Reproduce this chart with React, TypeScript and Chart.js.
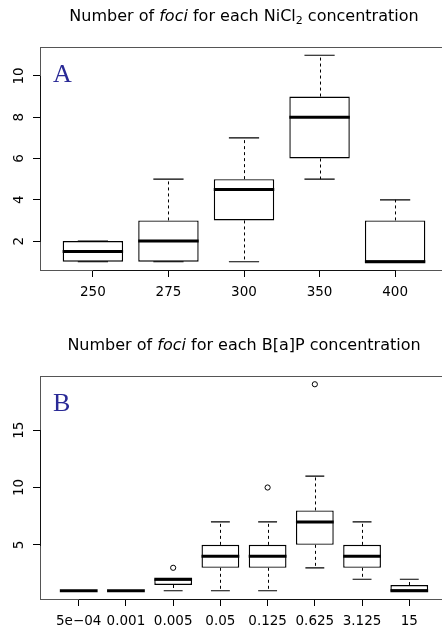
import React, { useEffect, useRef } from 'react';
import { Chart, registerables } from 'chart.js';

Chart.register(...registerables);

// ---- NiCl2 panel: five-number summaries per concentration ----
const nickelConcentrations = ['250', '275', '300', '350', '400'];
const nickelLowWhisker = [1, 1, 1, 5, 1];
const nickelQ1 = [1, 1, 3, 6, 1];
const nickelMedian = [1.5, 2, 4.5, 8, 1];
const nickelQ3 = [2, 3, 5, 9, 3];
const nickelHighWhisker = [2, 5, 7, 11, 4];
const nickelOutlierGroup: number[] = [];
const nickelOutlierValue: number[] = [];
const nickelYTicks = [2, 4, 6, 8, 10];

// ---- B[a]P panel ----
const bapConcentrations = ['5e\u221204', '0.001', '0.005', '0.05', '0.125', '0.625', '3.125', '15'];
const bapLowWhisker = [1, 1, 1, 1, 1, 3, 2, 1];
const bapQ1 = [1, 1, 1.5, 3, 3, 5, 3, 1];
const bapMedian = [1, 1, 2, 4, 4, 7, 4, 1];
const bapQ3 = [1, 1, 2, 5, 5, 8, 5, 1.5];
const bapHighWhisker = [1, 1, 2, 7, 7, 11, 7, 2];
const bapOutlierGroup = [3, 5, 6];
const bapOutlierValue = [3, 10, 19];
const bapYTicks = [5, 10, 15];

const TICK_FONT = { family: 'DejaVu Sans', size: 13.5 };
const CANVAS_W = 460;
const PANEL_A_H = 329;
const PANEL_B_H = 304;
const AREA_BOTTOM = 270;

interface PanelSpec {
  letter: string;
  labels: string[];
  low: number[];
  q1: number[];
  median: number[];
  q3: number[];
  high: number[];
  outGroup: number[];
  outValue: number[];
  yTicks: number[];
  height: number;
}

// Whiskers, staples, medians, frame and panel letter, all placed through the chart scales
function makeBoxPlugin(spec: PanelSpec) {
  return {
    id: 'boxPlotParts',
    beforeDatasetsDraw(chart: any) {
      const { ctx } = chart;
      const xs = chart.scales.x;
      const ys = chart.scales.y;
      ctx.save();
      ctx.strokeStyle = '#000';
      ctx.lineWidth = 1;
      spec.median.forEach((_m, i) => {
        const cx = Math.round(xs.getPixelForValue(i + 1)) + 0.5;
        const capL = xs.getPixelForValue(i + 1 - 0.2);
        const capR = xs.getPixelForValue(i + 1 + 0.2);
        ctx.setLineDash([3, 3]);
        ctx.beginPath();
        ctx.moveTo(cx, ys.getPixelForValue(spec.q3[i]));
        ctx.lineTo(cx, ys.getPixelForValue(spec.high[i]));
        ctx.moveTo(cx, ys.getPixelForValue(spec.q1[i]));
        ctx.lineTo(cx, ys.getPixelForValue(spec.low[i]));
        ctx.stroke();
        ctx.setLineDash([]);
        ctx.lineWidth = 1.2;
        ctx.beginPath();
        const hi = ys.getPixelForValue(spec.high[i]);
        const lo = ys.getPixelForValue(spec.low[i]);
        ctx.moveTo(capL, hi);
        ctx.lineTo(capR, hi);
        ctx.moveTo(capL, lo);
        ctx.lineTo(capR, lo);
        ctx.stroke();
        ctx.lineWidth = 1;
      });
      ctx.restore();
    },
    afterDatasetsDraw(chart: any) {
      const { ctx, chartArea } = chart;
      const xs = chart.scales.x;
      const ys = chart.scales.y;
      ctx.save();
      // medians
      ctx.strokeStyle = '#000';
      ctx.lineWidth = 3;
      ctx.lineCap = 'butt';
      spec.median.forEach((m, i) => {
        const py = ys.getPixelForValue(m);
        ctx.beginPath();
        ctx.moveTo(xs.getPixelForValue(i + 1 - 0.4), py);
        ctx.lineTo(xs.getPixelForValue(i + 1 + 0.4), py);
        ctx.stroke();
      });
      // plot frame
      ctx.lineWidth = 1;
      ctx.strokeStyle = '#555';
      const l = Math.round(chartArea.left) + 0.5;
      const t = Math.round(chartArea.top) + 0.5;
      const r = Math.round(chartArea.right) + 0.5;
      const b = Math.round(chartArea.bottom) + 0.5;
      ctx.strokeRect(l, t, r - l, b - t);
      // axis lines spanning first to last tick
      ctx.strokeStyle = '#111';
      ctx.beginPath();
      ctx.moveTo(Math.round(xs.getPixelForValue(1)), b);
      ctx.lineTo(Math.round(xs.getPixelForValue(spec.labels.length)) + 1, b);
      ctx.moveTo(l, Math.round(ys.getPixelForValue(spec.yTicks[spec.yTicks.length - 1])));
      ctx.lineTo(l, Math.round(ys.getPixelForValue(spec.yTicks[0])) + 1);
      ctx.stroke();
      // panel letter
      ctx.fillStyle = '#2a2a96';
      ctx.font = '26px "Liberation Serif", "DejaVu Serif", serif';
      ctx.textBaseline = 'alphabetic';
      ctx.textAlign = 'left';
      ctx.fillText(spec.letter, chartArea.left + 13, chartArea.top + 35);
      ctx.restore();
    },
  };
}

function buildChart(canvas: HTMLCanvasElement, spec: PanelSpec) {
  const n = spec.labels.length;
  const allLow = Math.min(...spec.low, ...spec.outValue);
  const allHigh = Math.max(...spec.high, ...spec.outValue);
  const yPad = (allHigh - allLow) * 0.04;
  const xPad = n * 0.04;

  const boxData = spec.q1.map((v, i) => ({ x: i + 1, y: [v, spec.q3[i]] }));
  const outlierData = spec.outGroup.map((g, k) => ({ x: g, y: spec.outValue[k] }));

  const tickGrid = {
    display: true,
    offset: false,
    drawOnChartArea: false,
    drawTicks: true,
    tickLength: 7,
    tickColor: '#000',
    lineWidth: 1,
  };

  return new Chart(canvas, {
    type: 'bar',
    data: {
      datasets: [
        {
          type: 'bar',
          data: boxData as any,
          backgroundColor: '#ffffff',
          borderColor: '#000000',
          borderWidth: 1.4,
          borderSkipped: false,
          barPercentage: 0.8,
          categoryPercentage: 1,
        },
        {
          type: 'scatter',
          data: outlierData,
          pointStyle: 'circle',
          pointRadius: 2.6,
          borderWidth: 1,
          borderColor: '#000000',
          backgroundColor: 'rgba(0,0,0,0)',
          showLine: false,
        },
      ] as any,
    },
    options: {
      responsive: false,
      animation: false,
      events: [],
      layout: { padding: { top: 47, right: 12, bottom: 0, left: 0 } },
      plugins: {
        legend: { display: false },
        tooltip: { enabled: false },
        title: { display: false },
      },
      scales: {
        x: {
          type: 'linear',
          min: 0.5 - xPad,
          max: n + 0.5 + xPad,
          offset: false,
          afterBuildTicks: (s: any) => {
            s.ticks = spec.labels.map((_l, i) => ({ value: i + 1 }));
          },
          afterFit: (s: any) => {
            s.height = spec.height - AREA_BOTTOM;
          },
          grid: tickGrid,
          border: { display: false },
          ticks: {
            autoSkip: false,
            minRotation: 0,
            maxRotation: 0,
            padding: 7,
            color: '#000',
            font: TICK_FONT,
            callback: (v: any) => spec.labels[Math.round(Number(v)) - 1] ?? '',
          },
        },
        y: {
          type: 'linear',
          min: allLow - yPad,
          max: allHigh + yPad,
          afterBuildTicks: (s: any) => {
            s.ticks = spec.yTicks.map((v) => ({ value: v }));
          },
          afterFit: (s: any) => {
            s.width = 40;
          },
          grid: tickGrid,
          border: { display: false },
          ticks: {
            minRotation: 90,
            maxRotation: 90,
            crossAlign: 'center',
            padding: 5,
            color: '#000',
            font: TICK_FONT,
            callback: (v: any) => String(v),
          },
        },
      } as any,
    },
    plugins: [makeBoxPlugin(spec)],
  });
}

const titleStyle: React.CSSProperties = {
  position: 'absolute',
  left: 40,
  width: 408,
  textAlign: 'center',
  fontFamily: '"DejaVu Sans", sans-serif',
  fontSize: 16,
  lineHeight: '16px',
  color: '#000',
  whiteSpace: 'nowrap',
};

const subStyle: React.CSSProperties = {
  fontSize: 11,
  lineHeight: 0,
  verticalAlign: '-3px',
};

export default function App() {
  const refA = useRef<HTMLCanvasElement>(null);
  const refB = useRef<HTMLCanvasElement>(null);

  useEffect(() => {
    document.body.style.margin = '0';
    document.body.style.background = '#fff';
    const a = buildChart(refA.current!, {
      letter: 'A',
      labels: nickelConcentrations,
      low: nickelLowWhisker,
      q1: nickelQ1,
      median: nickelMedian,
      q3: nickelQ3,
      high: nickelHighWhisker,
      outGroup: nickelOutlierGroup,
      outValue: nickelOutlierValue,
      yTicks: nickelYTicks,
      height: PANEL_A_H,
    });
    const b = buildChart(refB.current!, {
      letter: 'B',
      labels: bapConcentrations,
      low: bapLowWhisker,
      q1: bapQ1,
      median: bapMedian,
      q3: bapQ3,
      high: bapHighWhisker,
      outGroup: bapOutlierGroup,
      outValue: bapOutlierValue,
      yTicks: bapYTicks,
      height: PANEL_B_H,
    });
    return () => {
      a.destroy();
      b.destroy();
    };
  }, []);

  return (
    <div style={{ position: 'relative', width: 442, height: 633, overflow: 'hidden', background: '#fff' }}>
      <canvas
        ref={refA}
        width={CANVAS_W}
        height={PANEL_A_H}
        style={{ position: 'absolute', left: 0, top: 0, display: 'block' }}
      />
      <canvas
        ref={refB}
        width={CANVAS_W}
        height={PANEL_B_H}
        style={{ position: 'absolute', left: 0, top: PANEL_A_H, display: 'block' }}
      />
      <div style={{ ...titleStyle, top: 8 }}>
        Number of <i>foci</i> for each NiCl<sub style={subStyle}>2</sub> concentration
      </div>
      <div style={{ ...titleStyle, top: 8 + PANEL_A_H }}>
        Number of <i>foci</i> for each B[a]P concentration
      </div>
    </div>
  );
}
